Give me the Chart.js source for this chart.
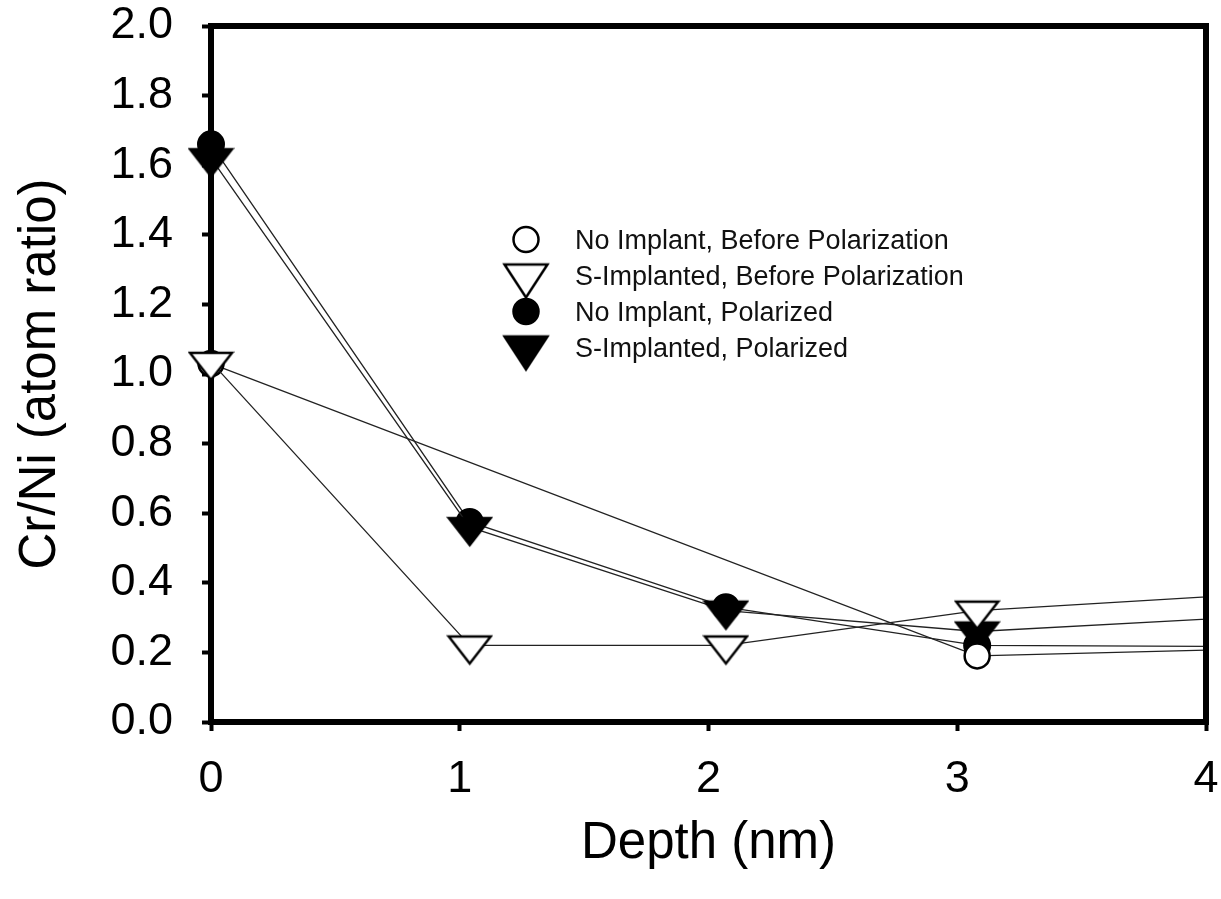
<!DOCTYPE html>
<html>
<head>
<meta charset="utf-8">
<script src="https://cdn.jsdelivr.net/npm/chart.js@4.4.1/dist/chart.umd.min.js"></script>
<style>
    html, body { margin: 0; padding: 0; background: #fff; }
</style>
</head>
<body>
<canvas id="myChart" width="1221" height="899"></canvas>
<script>
// depth (nm) of each measurement; last one sits just past the axis end
const depths = [0, 1.04, 2.07, 3.08, 4.12];

const seriesNames = [
    "No Implant, Before Polarization",
    "S-Implanted, Before Polarization",
    "No Implant, Polarized",
    "S-Implanted, Polarized"
];

// Cr/Ni atom ratio
const noImplantBefore = [1.03, null, null, 0.19, 0.209];
const sImplantBefore = [1.035, 0.22, 0.22, 0.32, 0.365];
const noImplantPolarized = [1.66, 0.575, 0.33, 0.22, 0.217];
const sImplantPolarized = [1.62, 0.56, 0.32, 0.26, 0.30];

const xTicks = [0, 1, 2, 3, 4];
const yTicks = [0.0, 0.2, 0.4, 0.6, 0.8, 1.0, 1.2, 1.4, 1.6, 1.8, 2.0];

const FONT = "'Liberation Sans', Arial, Helvetica, sans-serif";


// down-pointing triangle as an image, centroid in the middle of the canvas
function triangleSymbol(w, h, filled) {
    const lw = 2.5;
    const c = document.createElement('canvas');
    c.width = Math.ceil(w + lw * 2);
    const half = Math.ceil(2 * h / 3 + lw * 2);
    c.height = half * 2;
    const ctx = c.getContext('2d');
    const cx = c.width / 2;
    ctx.beginPath();
    ctx.moveTo(cx - w / 2, half - h / 3);
    ctx.lineTo(cx + w / 2, half - h / 3);
    ctx.lineTo(cx, half + 2 * h / 3);
    ctx.closePath();
    ctx.fillStyle = filled ? '#000' : '#fff';
    ctx.fill();
    ctx.lineWidth = lw;
    ctx.strokeStyle = '#000';
    ctx.stroke();
    return c;
}

function toPoints(ys) {
    return ys.map((y, i) => ({ x: depths[i], y: y }));
}

window.onload = () => {
    const openTri = triangleSymbol(42, 27, false);
    const fullTri = triangleSymbol(42, 27, true);
    const legendOpenTri = triangleSymbol(43, 33, false);
    const legendFullTri = triangleSymbol(43, 33, true);

    const symbols = [
        { kind: 'circle', filled: false },
        { kind: 'tri', img: legendOpenTri },
        { kind: 'circle', filled: true },
        { kind: 'tri', img: legendFullTri }
    ];

    const lineStyle = {
        borderColor: '#222',
        borderWidth: 1.3,
        tension: 0,
        clip: { left: 40, top: 40, right: 0, bottom: 40 }
    };

    const datasets = [
        Object.assign({
            label: seriesNames[0],
            data: toPoints(noImplantBefore),
            spanGaps: true,
            pointStyle: 'circle',
            pointRadius: 12.5,
            pointBorderWidth: 2.5,
            pointBackgroundColor: '#fff',
            pointBorderColor: '#000',
            order: 1
        }, lineStyle),
        Object.assign({
            label: seriesNames[1],
            data: toPoints(sImplantBefore),
            pointStyle: openTri,
            order: 0
        }, lineStyle),
        Object.assign({
            label: seriesNames[2],
            data: toPoints(noImplantPolarized),
            pointStyle: 'circle',
            pointRadius: 13,
            pointBorderWidth: 2,
            pointBackgroundColor: '#000',
            pointBorderColor: '#000',
            order: 3
        }, lineStyle),
        Object.assign({
            label: seriesNames[3],
            data: toPoints(sImplantPolarized),
            pointStyle: fullTri,
            order: 2
        }, lineStyle)
    ];

    const frame = {
        id: 'frame',
        afterDraw(chart) {
            const { ctx, chartArea: a } = chart;
            ctx.save();
            ctx.strokeStyle = '#000';
            ctx.lineWidth = 6;
            ctx.lineCap = 'square';
            ctx.beginPath();
            ctx.moveTo(a.left, a.top);
            ctx.lineTo(a.right, a.top);
            ctx.lineTo(a.right, a.bottom);
            ctx.stroke();
            ctx.restore();
        }
    };

    const insetLegend = {
        id: 'insetLegend',
        afterDraw(chart) {
            const ctx = chart.ctx;
            const symX = 526;
            const textX = 575;
            const rowY = [239.5, 275.5, 311.5, 347.5];
            ctx.save();
            chart.data.datasets.forEach((ds, i) => {
                const s = symbols[i];
                const y = rowY[i];
                if (s.kind === 'circle') {
                    ctx.beginPath();
                    ctx.arc(symX, y, 12.5, 0, Math.PI * 2);
                    ctx.fillStyle = s.filled ? '#000' : '#fff';
                    ctx.fill();
                    ctx.lineWidth = 2.5;
                    ctx.strokeStyle = '#000';
                    ctx.stroke();
                } else {
                    ctx.drawImage(s.img, symX - s.img.width / 2, y - s.img.height / 2);
                }
                ctx.fillStyle = '#111';
                ctx.font = "27px " + FONT;
                ctx.textAlign = 'left';
                ctx.textBaseline = 'alphabetic';
                ctx.fillText(ds.label, textX, y + 9.5);
            });
            ctx.restore();
        }
    };

    const tickFont = { family: FONT, size: 45 };
    const titleFont = { family: FONT, size: 51 };

    const config = {
        type: 'line',
        data: { datasets: datasets },
        options: {
            responsive: false,
            animation: false,
            events: [],
            devicePixelRatio: 1,
            layout: { padding: { left: 0, top: 26, right: 15, bottom: 0 } },
            plugins: {
                legend: { display: false },
                tooltip: { enabled: false }
            },
            scales: {
                x: {
                    type: 'linear',
                    min: 0,
                    max: 4,
                    afterBuildTicks: (scale) => { scale.ticks = xTicks.map(v => ({ value: v })); },
                    afterFit: (scale) => {
                        scale.height = 899 - 722;
                        scale.paddingLeft = 0;
                        scale.paddingRight = 0;
                    },
                    ticks: {
                        font: tickFont,
                        color: '#000',
                        padding: 22,
                        maxRotation: 0
                    },
                    grid: {
                        drawOnChartArea: false,
                        drawTicks: true,
                        tickLength: 9,
                        tickWidth: 4,
                        tickColor: '#000'
                    },
                    border: { display: true, width: 6, color: '#000' },
                    title: {
                        display: true,
                        text: 'Depth (nm)',
                        font: titleFont,
                        color: '#000',
                        padding: { top: 0, bottom: 24 }
                    }
                },
                y: {
                    type: 'linear',
                    min: 0,
                    max: 2,
                    afterBuildTicks: (scale) => { scale.ticks = yTicks.map(v => ({ value: v })); },
                    afterFit: (scale) => {
                        scale.width = 211;
                        scale.paddingTop = 0;
                        scale.paddingBottom = 0;
                    },
                    ticks: {
                        font: tickFont,
                        color: '#000',
                        padding: 29,
                        callback: (v) => Number(v).toFixed(1)
                    },
                    grid: {
                        drawOnChartArea: false,
                        drawTicks: true,
                        tickLength: 9,
                        tickWidth: 4,
                        tickColor: '#000'
                    },
                    border: { display: true, width: 6, color: '#000' },
                    title: {
                        display: true,
                        text: 'Cr/Ni (atom ratio)',
                        font: titleFont,
                        color: '#000',
                        padding: { top: 10, bottom: 0 }
                    }
                }
            }
        },
        plugins: [frame, insetLegend]
    };

    const ctx = document.getElementById('myChart').getContext('2d');
    const myChart = new Chart(ctx, config);
};
</script>
</body>
</html>
